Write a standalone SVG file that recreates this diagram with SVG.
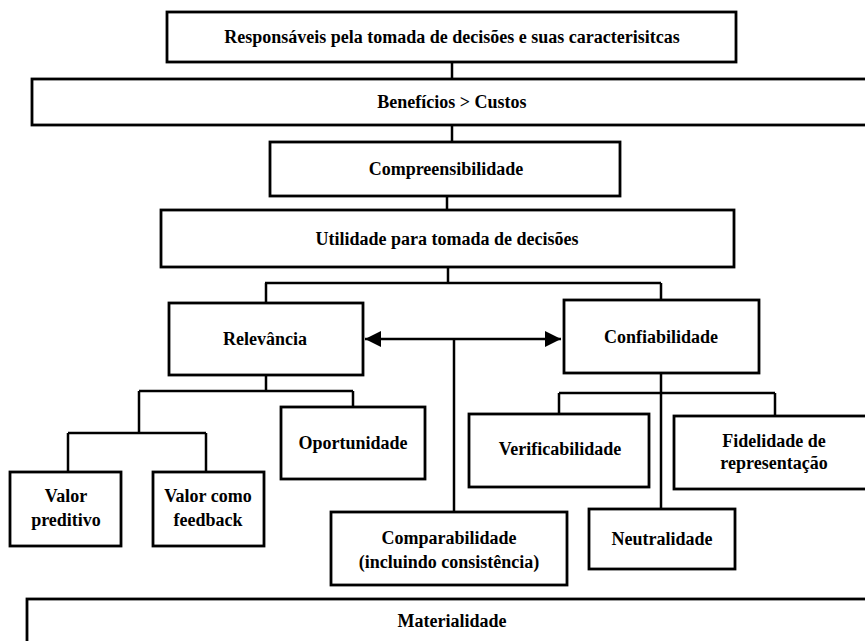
<svg xmlns="http://www.w3.org/2000/svg" width="865" height="641" viewBox="0 0 865 641">
<style>
.b{fill:#fff;stroke:#000;stroke-width:2.8}
.t{font-family:"Liberation Serif","Times New Roman",serif;font-weight:bold;font-size:18px;fill:#000;text-anchor:middle}
.c{fill:none;stroke:#000;stroke-width:2.5}
</style>
<defs>
<marker id="ah" markerWidth="16" markerHeight="16" refX="16" refY="8" orient="auto-start-reverse" markerUnits="userSpaceOnUse">
<polygon points="0,0 16,8 0,16" fill="#000"/>
</marker>
</defs>
<rect width="865" height="641" fill="#fff"/>
<g id="connectors">
<path class="c" d="M452,62V79M452,125V142M447,196V210"/>
<path class="c" d="M448,267V283M265,283H661M266,283V303M661,283V300"/>
<path class="c" d="M266,375V391M139,391H353M139,391V433M68,433H206M68,433V472M206,433V472M353,391V407"/>
<path class="c" d="M661,373V509M559,393H775M559,393V414M775,393V416"/>
<path class="c" d="M454,339V512"/>
<path class="c" d="M365,339H561" marker-start="url(#ah)" marker-end="url(#ah)"/>
</g>
<g id="n1"><rect class="b" x="167" y="12" width="569" height="50"/><text class="t" x="452" y="43">Responsáveis pela tomada de decisões e suas caracterisitcas</text></g>
<g id="n2"><rect class="b" x="32" y="79" width="845" height="46"/><text class="t" x="452" y="108">Benefícios &gt; Custos</text></g>
<g id="n3"><rect class="b" x="270" y="142" width="350" height="54"/><text class="t" x="446" y="175">Compreensibilidade</text></g>
<g id="n4"><rect class="b" x="161" y="210" width="573" height="57"/><text class="t" x="447" y="245">Utilidade para tomada de decisões</text></g>
<g id="n5"><rect class="b" x="169" y="303" width="194" height="72"/><text class="t" x="265" y="345">Relevância</text></g>
<g id="n6"><rect class="b" x="564" y="300" width="195" height="73"/><text class="t" x="661" y="343">Confiabilidade</text></g>
<g id="n7"><rect class="b" x="281" y="407" width="144" height="72"/><text class="t" x="353" y="449">Oportunidade</text></g>
<g id="n8"><rect class="b" x="10" y="472" width="111" height="74"/><text class="t" x="66" y="502">Valor</text><text class="t" x="66" y="526">preditivo</text></g>
<g id="n9"><rect class="b" x="153" y="472" width="111" height="74"/><text class="t" x="208" y="502">Valor como</text><text class="t" x="208" y="526">feedback</text></g>
<g id="n10"><rect class="b" x="331" y="512" width="236" height="73"/><text class="t" x="449" y="544">Comparabilidade</text><text class="t" x="449" y="568">(incluindo consistência)</text></g>
<g id="n11"><rect class="b" x="469" y="414" width="180" height="73"/><text class="t" x="560" y="455">Verificabilidade</text></g>
<g id="n12"><rect class="b" x="674" y="416" width="206" height="73"/><text class="t" x="774" y="447">Fidelidade de</text><text class="t" x="774" y="469">representação</text></g>
<g id="n13"><rect class="b" x="589" y="509" width="146" height="60"/><text class="t" x="662" y="545">Neutralidade</text></g>
<g id="n14"><rect class="b" x="27" y="599" width="853" height="60"/><text class="t" x="452" y="627">Materialidade</text></g>
</svg>
